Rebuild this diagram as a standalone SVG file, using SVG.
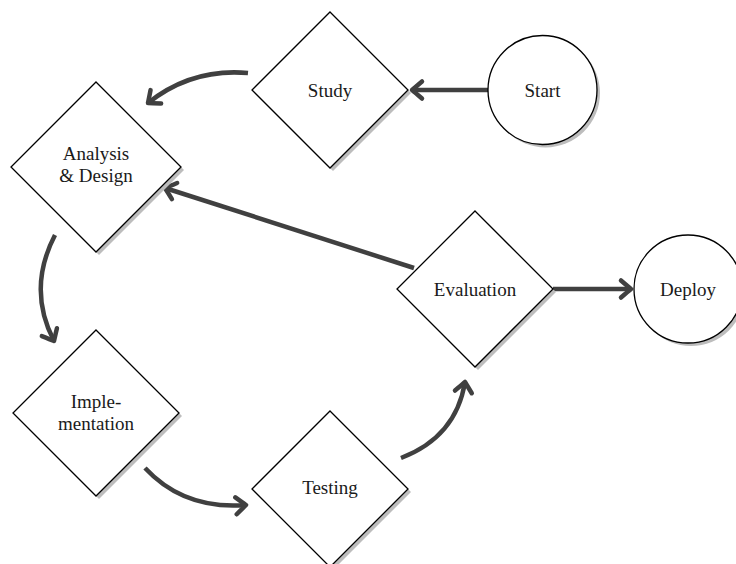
<svg xmlns="http://www.w3.org/2000/svg" width="736" height="564" viewBox="0 0 736 564">
  <defs>
    <style>
      .shadow { fill: #bdbdbd; stroke: none; }
      .shape { fill: #ffffff; stroke: #000000; stroke-width: 1.3; }
      .label { font-family: "Liberation Serif", "Times New Roman", serif; font-size: 19px; fill: #1a1a1a; text-anchor: middle; }
      .edge { fill: none; stroke: #404040; stroke-width: 4.5; stroke-linecap: butt; }
    </style>
    <marker id="arrow" markerUnits="userSpaceOnUse" viewBox="-14 -12 18 24" refX="0" refY="0" markerWidth="18" markerHeight="24" orient="auto">
      <path d="M -10 -8.5 Q -3 -2.5 0 0 Q -3 2.5 -10 8.5" fill="none" stroke="#404040" stroke-width="4.5" stroke-linecap="round" stroke-linejoin="round"/>
    </marker>
  </defs>

  <rect width="736" height="564" fill="#ffffff"/>

  <!-- connectors -->
  <g id="connectors">
    <path class="edge" d="M 488 90 L 412 90" marker-end="url(#arrow)"/>
    <path class="edge" d="M 248 73 Q 192 68 148 103" marker-end="url(#arrow)"/>
    <path class="edge" d="M 55 235 Q 27 289 54 341" marker-end="url(#arrow)"/>
    <path class="edge" d="M 145 468 Q 184 510 246 505" marker-end="url(#arrow)"/>
    <path class="edge" d="M 401 458 Q 456 437 465 382" marker-end="url(#arrow)"/>
    <path class="edge" d="M 414 268 L 165 188" marker-end="url(#arrow)"/>
    <path class="edge" d="M 553 289 L 631 289" marker-end="url(#arrow)"/>
  </g>

  <!-- nodes -->
  <g id="start">
    <circle class="shadow" cx="545.5" cy="93" r="54.5"/>
    <circle class="shape" cx="542.5" cy="90" r="54.5"/>
    <text class="label" x="542.5" y="96.5">Start</text>
  </g>

  <g id="study">
    <polygon class="shadow" points="333,15 411,93 333,171 255,93"/>
    <polygon class="shape" points="330,12 408,90 330,168 252,90"/>
    <text class="label" x="330" y="96.5">Study</text>
  </g>

  <g id="analysis-design">
    <polygon class="shadow" points="99,85 184,170 99,255 14,170"/>
    <polygon class="shape" points="96,82 181,167 96,252 11,167"/>
    <text class="label" x="96" y="160">Analysis</text>
    <text class="label" x="96" y="182">&amp; Design</text>
  </g>

  <g id="implementation">
    <polygon class="shadow" points="99,333 182,416 99,499 16,416"/>
    <polygon class="shape" points="96,330 179,413 96,496 13,413"/>
    <text class="label" x="96" y="408">Imple-</text>
    <text class="label" x="96" y="430">mentation</text>
  </g>

  <g id="testing">
    <polygon class="shadow" points="333,414 411,492 333,570 255,492"/>
    <polygon class="shape" points="330,411 408,489 330,567 252,489"/>
    <text class="label" x="330" y="494">Testing</text>
  </g>

  <g id="evaluation">
    <polygon class="shadow" points="478,214 556,292 478,370 400,292"/>
    <polygon class="shape" points="475,211 553,289 475,367 397,289"/>
    <text class="label" x="475" y="295.5">Evaluation</text>
  </g>

  <g id="deploy">
    <circle class="shadow" cx="691" cy="292" r="54"/>
    <circle class="shape" cx="688" cy="289" r="54"/>
    <text class="label" x="688" y="295.5">Deploy</text>
  </g>
</svg>
